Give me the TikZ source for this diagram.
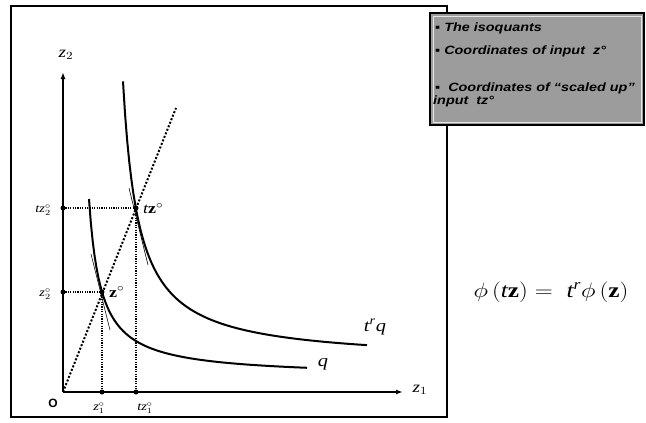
\documentclass[tikz,border=0pt]{standalone}
\usepackage{fontspec}
\usepackage{graphicx}
\setmainfont{Liberation Serif}
\setsansfont{Liberation Sans}
\usetikzlibrary{arrows.meta}
\definecolor{boxgray}{HTML}{9C9C9C}
\newcommand{\hstretch}[1]{\scalebox{1.2}[1]{#1}}
\begin{document}
\begin{tikzpicture}[x=1pt,y=-1pt,
  frame/.style={line width=2pt},
  axis/.style={line width=1.8pt,-{Latex[length=7pt,width=5pt]}},
  curve/.style={line width=2pt},
  tangent/.style={line width=0.6pt},
  guide/.style={line width=1.2pt, dash pattern=on 1.2pt off 1.2pt},
  ray/.style={line width=2pt, dash pattern=on 2pt off 1.8pt},
  dot/.style={circle, fill=black, inner sep=0pt, minimum size=5pt},
  small/.style={inner sep=0pt, font=\fontsize{12}{14}\selectfont},
  big/.style={inner sep=0pt, font=\fontsize{16}{18}\selectfont},
  boxtext/.style={inner sep=0pt, anchor=base west, font=\sffamily\bfseries\itshape\fontsize{12}{14}\selectfont}
]
\useasboundingbox (0,0) rectangle (646,423);
\fill[white] (0,0) rectangle (646,423);

% outer frame
\coordinate (fa) at (11,6);
\coordinate (fb) at (447,417);
\draw[frame] (fa) rectangle (fb);

% axes
\coordinate (O) at (63,392);
\coordinate (ytop) at (63,72);
\coordinate (xend) at (403,392);
\draw[axis] (O) -- (ytop);
\draw[axis] (O) -- (xend);

% ray
\coordinate (rayend) at (176,108);
\draw[ray] (O) -- (rayend);

% isoquants
\draw[curve] plot[domain=26:244, samples=120, variable=\u] ({63+\u},{392-(2118/(\u-14.1)+15)});
\draw[curve] plot[domain=60:304, samples=120, variable=\u] ({63+\u},{392-(4377/(\u-44.4)+30)});

% tangents
\coordinate (ta1) at (91,254);
\coordinate (ta2) at (110,330);
\coordinate (tb1) at (129,188);
\coordinate (tb2) at (148,265);
\draw[tangent] (ta1) -- (ta2);
\draw[tangent] (tb1) -- (tb2);

% points
\node[dot] (z) at (102,292) {};
\node[dot] (tz) at (136,208) {};
\node[dot] (z1) at (102,392) {};
\node[dot] (tz1) at (136,392) {};
\node[dot] (z2) at (63,292) {};
\node[dot] (tz2) at (63,208) {};

\draw[guide] (z2.center) -- (z.center);
\draw[guide] (tz2.center) -- (tz.center);
\draw[guide] (z.center) -- (z1.center);
\draw[guide] (tz.center) -- (tz1.center);

% labels
\node[big] (z2ax) at (66,55) {\hstretch{$\mathit{z}_2$}};
\node[big] (z1ax) at (420,390) {\hstretch{$\mathit{z}_1$}};
\node[inner sep=0pt, font=\sffamily\bfseries\fontsize{12}{14}\selectfont] (Olab) at (53,403) {O};
\node[small, anchor=east] (tz2lab) at (51,210) {\hstretch{$\mathit{tz}_2^\circ$}};
\node[small, anchor=east] (z2lab) at (51,294) {\hstretch{$\mathit{z}_2^\circ$}};
\node[small] (z1lab) at (99,408) {\hstretch{$\mathit{z}_1^\circ$}};
\node[small] (tz1lab) at (145,408) {\hstretch{$\mathit{tz}_1^\circ$}};
\node[inner sep=0pt, anchor=west, font=\fontsize{15}{17}\selectfont] (zlab) at (109,292) {\hstretch{$\mathbf{z}^\circ$}};
\node[inner sep=0pt, anchor=west, font=\fontsize{15}{17}\selectfont] (tzlab) at (143,209) {\hstretch{$\mathit{t}\mathbf{z}^\circ$}};
\node[big, font=\fontsize{17}{19}\selectfont] (qlab) at (323,364) {\hstretch{$\mathit{q}$}};
\node[big, font=\fontsize{17}{19}\selectfont] (trqlab) at (375,327) {\hstretch{$\mathit{t}^{\mathit{r}}\mathit{q}$}};

% equation
\node[inner sep=0pt, font=\fontsize{21}{23}\selectfont] (eq) at (551,292) {\hstretch{$\phi\,(\mathit{t}\mathbf{z}) =\; \mathit{t}^{\mathit{r}}\phi\,(\mathbf{z})$}};

% legend box
\coordinate (ba) at (430,13);
\coordinate (bb) at (644,125);
\coordinate (bia) at (433,16);
\coordinate (bib) at (641,122);
\draw[line width=1.5pt, fill=boxgray] (ba) rectangle (bb);
\draw[line width=0.8pt, gray!20] (bia) rectangle (bib);
\node[boxtext] (l1) at (435,31) {\hstretch{▪ The isoquants}};
\node[boxtext] (l2) at (435,54) {\hstretch{▪ Coordinates of input\ \ z°}};
\node[boxtext] (l3) at (435,91) {\hstretch{▪\ \ Coordinates of “scaled up”}};
\node[boxtext] (l4) at (433,104) {\hstretch{input\ \ tz°}};
\end{tikzpicture}
\end{document}
